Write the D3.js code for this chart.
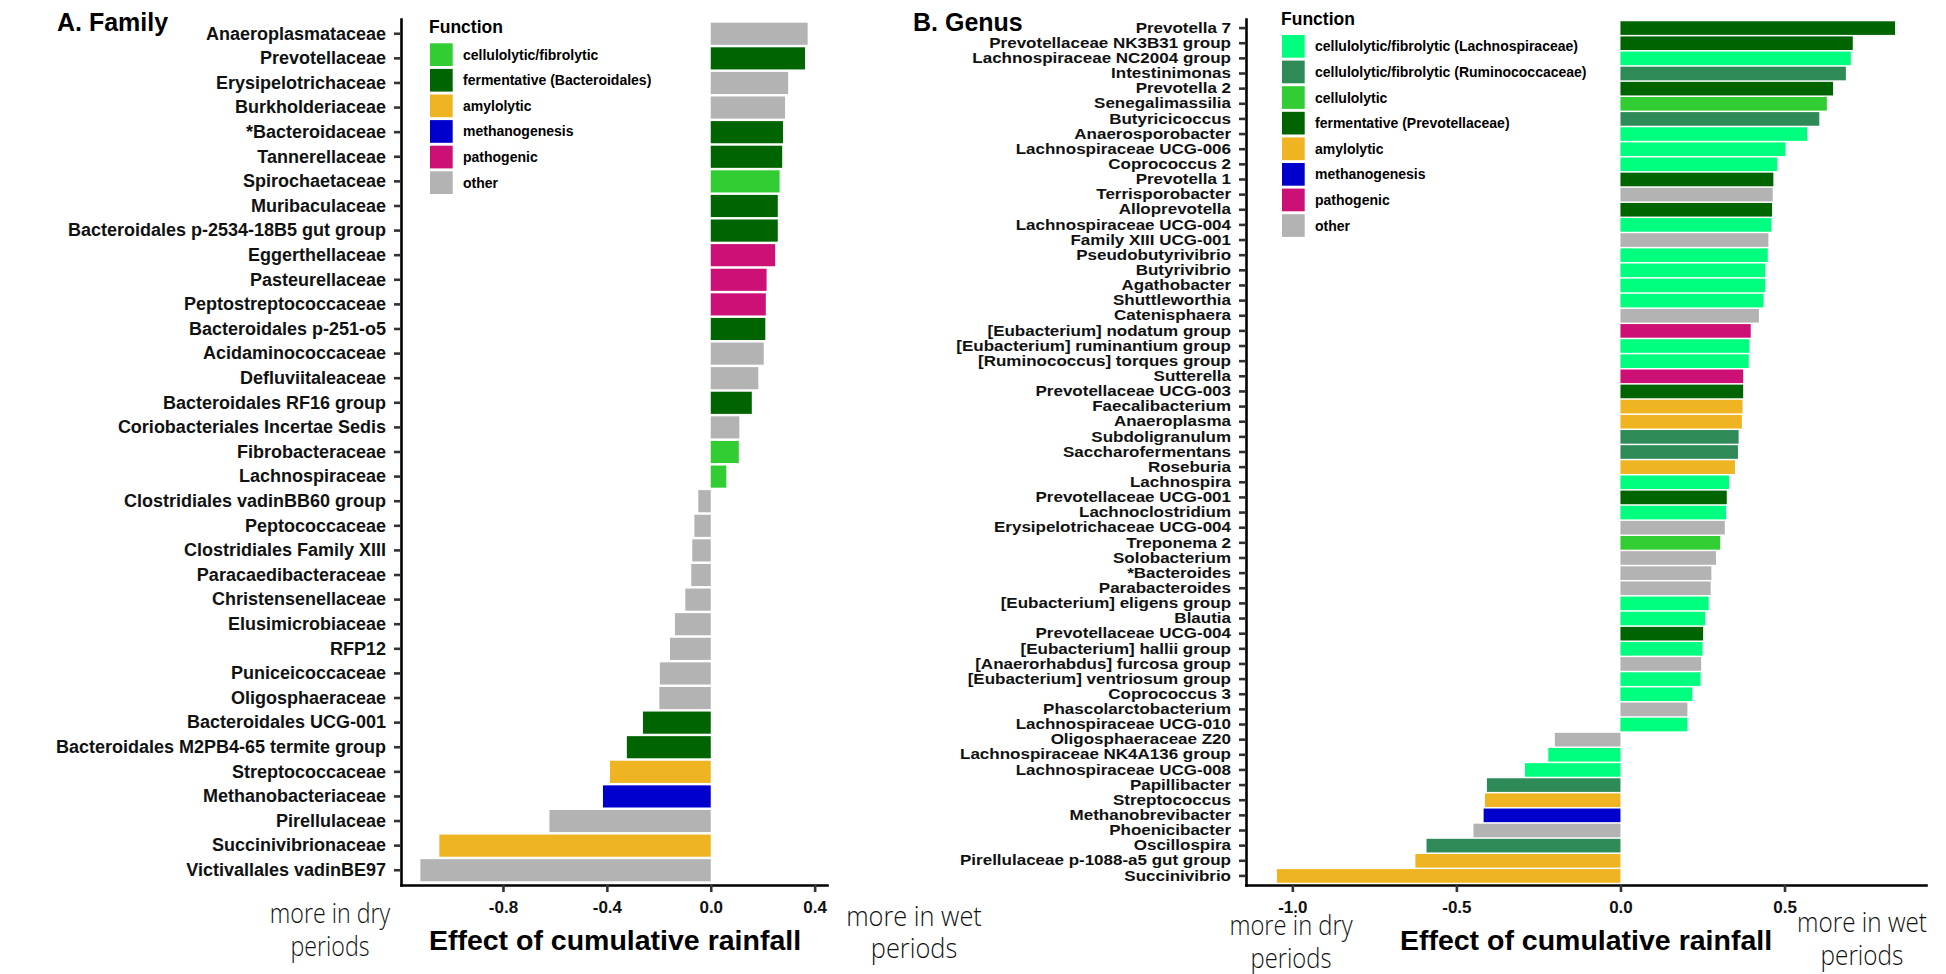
<!DOCTYPE html>
<html>
<head>
<meta charset="utf-8">
<script src="https://cdn.jsdelivr.net/npm/d3@7"></script>
<style>
body { margin: 0; background: #fff; }
svg { display: block; font-family: "Liberation Sans", Arial, sans-serif; }
</style>
</head>
<body>
<svg id="chart" width="1946" height="974"></svg>
<script>
// ---- data: families (panel A)
let families = ["Anaeroplasmataceae", "Prevotellaceae", "Erysipelotrichaceae", "Burkholderiaceae", "*Bacteroidaceae",
  "Tannerellaceae", "Spirochaetaceae", "Muribaculaceae", "Bacteroidales p-2534-18B5 gut group", "Eggerthellaceae",
  "Pasteurellaceae", "Peptostreptococcaceae", "Bacteroidales p-251-o5", "Acidaminococcaceae", "Defluviitaleaceae",
  "Bacteroidales RF16 group", "Coriobacteriales Incertae Sedis", "Fibrobacteraceae", "Lachnospiraceae",
  "Clostridiales vadinBB60 group", "Peptococcaceae", "Clostridiales Family XIII", "Paracaedibacteraceae",
  "Christensenellaceae", "Elusimicrobiaceae", "RFP12", "Puniceicoccaceae", "Oligosphaeraceae",
  "Bacteroidales UCG-001", "Bacteroidales M2PB4-65 termite group", "Streptococcaceae", "Methanobacteriaceae",
  "Pirellulaceae", "Succinivibrionaceae", "Victivallales vadinBE97"]
let familyValues = [0.373, 0.363, 0.298, 0.286, 0.278, 0.275, 0.265, 0.258, 0.258, 0.248,
  0.215, 0.212, 0.210, 0.204, 0.183, 0.158, 0.110, 0.108, 0.060, -0.048,
  -0.063, -0.071, -0.075, -0.098, -0.138, -0.157, -0.196, -0.198, -0.261, -0.323,
  -0.388, -0.415, -0.621, -1.045, -1.118]
let familyFunctions = ["other", "ferm", "other", "other", "ferm", "ferm", "cell", "ferm", "ferm", "path",
  "path", "path", "ferm", "other", "other", "ferm", "other", "cell", "cell", "other",
  "other", "other", "other", "other", "other", "other", "other", "other", "ferm", "ferm",
  "amyl", "meth", "other", "amyl", "other"]
let familyCodes = ["cell", "ferm", "amyl", "meth", "path", "other"]
let familyLabels = ["cellulolytic/fibrolytic", "fermentative (Bacteroidales)", "amylolytic", "methanogenesis", "pathogenic", "other"]
let familyColors = ["#32CD32", "#006400", "#EEB422", "#0000CD", "#CD1076", "#B3B3B3"]
let familyTicks = [-0.8, -0.4, 0, 0.4]

// ---- data: genera (panel B)
let genera = ["Prevotella 7", "Prevotellaceae NK3B31 group", "Lachnospiraceae NC2004 group", "Intestinimonas",
  "Prevotella 2", "Senegalimassilia", "Butyricicoccus", "Anaerosporobacter", "Lachnospiraceae UCG-006",
  "Coprococcus 2", "Prevotella 1", "Terrisporobacter", "Alloprevotella", "Lachnospiraceae UCG-004",
  "Family XIII UCG-001", "Pseudobutyrivibrio", "Butyrivibrio", "Agathobacter", "Shuttleworthia",
  "Catenisphaera", "[Eubacterium] nodatum group", "[Eubacterium] ruminantium group",
  "[Ruminococcus] torques group", "Sutterella", "Prevotellaceae UCG-003", "Faecalibacterium",
  "Anaeroplasma", "Subdoligranulum", "Saccharofermentans", "Roseburia", "Lachnospira",
  "Prevotellaceae UCG-001", "Lachnoclostridium", "Erysipelotrichaceae UCG-004", "Treponema 2",
  "Solobacterium", "*Bacteroides", "Parabacteroides", "[Eubacterium] eligens group", "Blautia",
  "Prevotellaceae UCG-004", "[Eubacterium] hallii group", "[Anaerorhabdus] furcosa group",
  "[Eubacterium] ventriosum group", "Coprococcus 3", "Phascolarctobacterium", "Lachnospiraceae UCG-010",
  "Oligosphaeraceae Z20", "Lachnospiraceae NK4A136 group", "Lachnospiraceae UCG-008", "Papillibacter",
  "Streptococcus", "Methanobrevibacter", "Phoenicibacter", "Oscillospira",
  "Pirellulaceae p-1088-a5 gut group", "Succinivibrio"]
let genusValues = [0.837, 0.708, 0.702, 0.687, 0.648, 0.629, 0.606, 0.569, 0.503, 0.478,
  0.466, 0.464, 0.462, 0.460, 0.451, 0.449, 0.441, 0.441, 0.436, 0.422,
  0.397, 0.393, 0.391, 0.374, 0.374, 0.372, 0.370, 0.360, 0.358, 0.349,
  0.331, 0.324, 0.322, 0.318, 0.304, 0.291, 0.277, 0.275, 0.269, 0.258,
  0.252, 0.250, 0.246, 0.244, 0.219, 0.204, 0.204, -0.200, -0.220, -0.291,
  -0.407, -0.413, -0.417, -0.448, -0.591, -0.625, -1.047]
let genusFunctions = ["ferm", "ferm", "lach", "rumi", "ferm", "cell", "rumi", "lach", "lach", "lach",
  "ferm", "other", "ferm", "lach", "other", "lach", "lach", "lach", "lach", "other",
  "path", "lach", "lach", "path", "ferm", "amyl", "amyl", "rumi", "rumi", "amyl",
  "lach", "ferm", "lach", "other", "cell", "other", "other", "other", "lach", "lach",
  "ferm", "lach", "other", "lach", "lach", "other", "lach", "other", "lach", "lach",
  "rumi", "amyl", "meth", "other", "rumi", "amyl", "amyl"]
let genusCodes = ["lach", "rumi", "cell", "ferm", "amyl", "meth", "path", "other"]
let genusLabels = ["cellulolytic/fibrolytic (Lachnospiraceae)", "cellulolytic/fibrolytic (Ruminococcaceae)",
  "cellulolytic", "fermentative (Prevotellaceae)", "amylolytic", "methanogenesis", "pathogenic", "other"]
let genusColors = ["#00FF7F", "#2E8B57", "#32CD32", "#006400", "#EEB422", "#0000CD", "#CD1076", "#B3B3B3"]
let genusTicks = [-1, -0.5, 0, 0.5]

let svg = d3.select('#chart')
let plotTop = 19
let plotBottom = 885

let drawPanel = (p) => {
    let lo = d3.min(p.values)
    let hi = d3.max(p.values)
    let pad = (hi - lo) * 0.05

    let xScale = d3.scaleLinear()
                   .domain([lo - pad, hi + pad])
                   .range(p.xRange)
    let yScale = d3.scaleBand()
                   .domain(p.names)
                   .range([plotTop, plotBottom])
                   .paddingInner(0.1)
                   .paddingOuter(0.15)
    let color = d3.scaleOrdinal().domain(p.codes).range(p.colors)

    svg.append('g')
       .selectAll('rect')
       .data(p.names)
       .enter()
       .append('rect')
       .attr('x', (d, i) => xScale(Math.min(0, p.values[i])))
       .attr('y', (d) => yScale(d))
       .attr('width', (d, i) => Math.abs(xScale(p.values[i]) - xScale(0)))
       .attr('height', yScale.bandwidth())
       .attr('fill', (d, i) => color(p.funcs[i]))

    let yAxis = svg.append('g')
       .attr('transform', 'translate(' + p.xRange[0] + ',0)')
       .call(d3.axisLeft(yScale).tickSize(7).tickPadding(8).tickSizeOuter(0))
    yAxis.attr('font-family', null).attr('font-size', p.labelSize).attr('font-weight', 'bold')
    yAxis.select('.domain').attr('stroke', '#000').attr('stroke-width', 2.6).attr('stroke-linecap', 'square')
    yAxis.selectAll('.tick line').attr('stroke', '#333').attr('stroke-width', 2.6)
    yAxis.selectAll('.tick text').attr('fill', '#111').attr('transform', 'scale(1,' + p.squish + ')')

    let xAxis = svg.append('g')
       .attr('transform', 'translate(0,' + plotBottom + ')')
       .call(d3.axisBottom(xScale).tickValues(p.ticks).tickFormat((d) => d.toFixed(1))
               .tickSize(7).tickPadding(9).tickSizeOuter(0))
    xAxis.attr('font-family', null).attr('font-size', 17).attr('font-weight', 'bold')
    xAxis.select('.domain').attr('stroke', '#000').attr('stroke-width', 2.6).attr('stroke-linecap', 'square')
    xAxis.selectAll('.tick line').attr('stroke', '#333').attr('stroke-width', 2.6)
    xAxis.selectAll('.tick text').attr('fill', '#111')

    // panel title
    svg.append('text')
       .attr('x', p.titleX).attr('y', 31)
       .attr('font-size', 25).attr('font-weight', 'bold')
       .text(p.title)

    // legend
    let lg = svg.append('g').attr('transform', 'translate(' + p.legendX + ',' + p.legendY + ')')
    lg.append('text')
      .attr('x', -1).attr('y', -10)
      .attr('font-size', 17.5).attr('font-weight', 'bold')
      .text('Function')
    let items = lg.selectAll('g.item')
      .data(p.labels)
      .enter()
      .append('g')
      .attr('transform', (d, i) => 'translate(0,' + (i * 25.6) + ')')
    items.append('rect')
      .attr('width', 22.7).attr('height', 22.7)
      .attr('fill', (d, i) => p.colors[i])
    items.append('text')
      .attr('x', 33).attr('y', 11.5).attr('dy', '0.35em')
      .attr('font-size', 14).attr('font-weight', 'bold')
      .text((d) => d)

    // x axis title and direction notes
    svg.append('text')
       .attr('x', p.axisTitleX).attr('y', 950)
       .attr('text-anchor', 'middle')
       .attr('font-size', 28.5).attr('font-weight', 'bold')
       .text('Effect of cumulative rainfall')

    p.notes.forEach((n) => {
        let t = svg.append('text')
           .attr('text-anchor', 'middle')
           .attr('font-family', '"Open Sans", sans-serif')
           .attr('font-weight', 300)
           .attr('font-size', 27)
           .attr('fill', '#111')
           .attr('transform', 'translate(' + n.x + ',0) scale(' + n.sx + ',1)')
        t.append('tspan').attr('x', 0).attr('y', n.y1).text(n.lines[0])
        t.append('tspan').attr('x', 0).attr('y', n.y2).text(n.lines[1])
    })
}

drawPanel({
    names: families, values: familyValues, funcs: familyFunctions,
    codes: familyCodes, labels: familyLabels, colors: familyColors, ticks: familyTicks,
    xRange: [401, 827], labelSize: 18, squish: 1,
    title: 'A. Family', titleX: 57,
    legendX: 430, legendY: 43.3,
    axisTitleX: 615,
    notes: [
        {x: 330, y1: 923, y2: 956, sx: 0.86, lines: ['more in dry', 'periods']},
        {x: 914, y1: 926, y2: 958, sx: 0.94, lines: ['more in wet', 'periods']}
    ]
})

drawPanel({
    names: genera, values: genusValues, funcs: genusFunctions,
    codes: genusCodes, labels: genusLabels, colors: genusColors, ticks: genusTicks,
    xRange: [1246, 1926], labelSize: 17, squish: 0.86,
    title: 'B. Genus', titleX: 913,
    legendX: 1282, legendY: 35,
    axisTitleX: 1586,
    notes: [
        {x: 1291, y1: 935, y2: 968, sx: 0.88, lines: ['more in dry', 'periods']},
        {x: 1862, y1: 932, y2: 965, sx: 0.9, lines: ['more in wet', 'periods']}
    ]
})
</script>
</body>
</html>
